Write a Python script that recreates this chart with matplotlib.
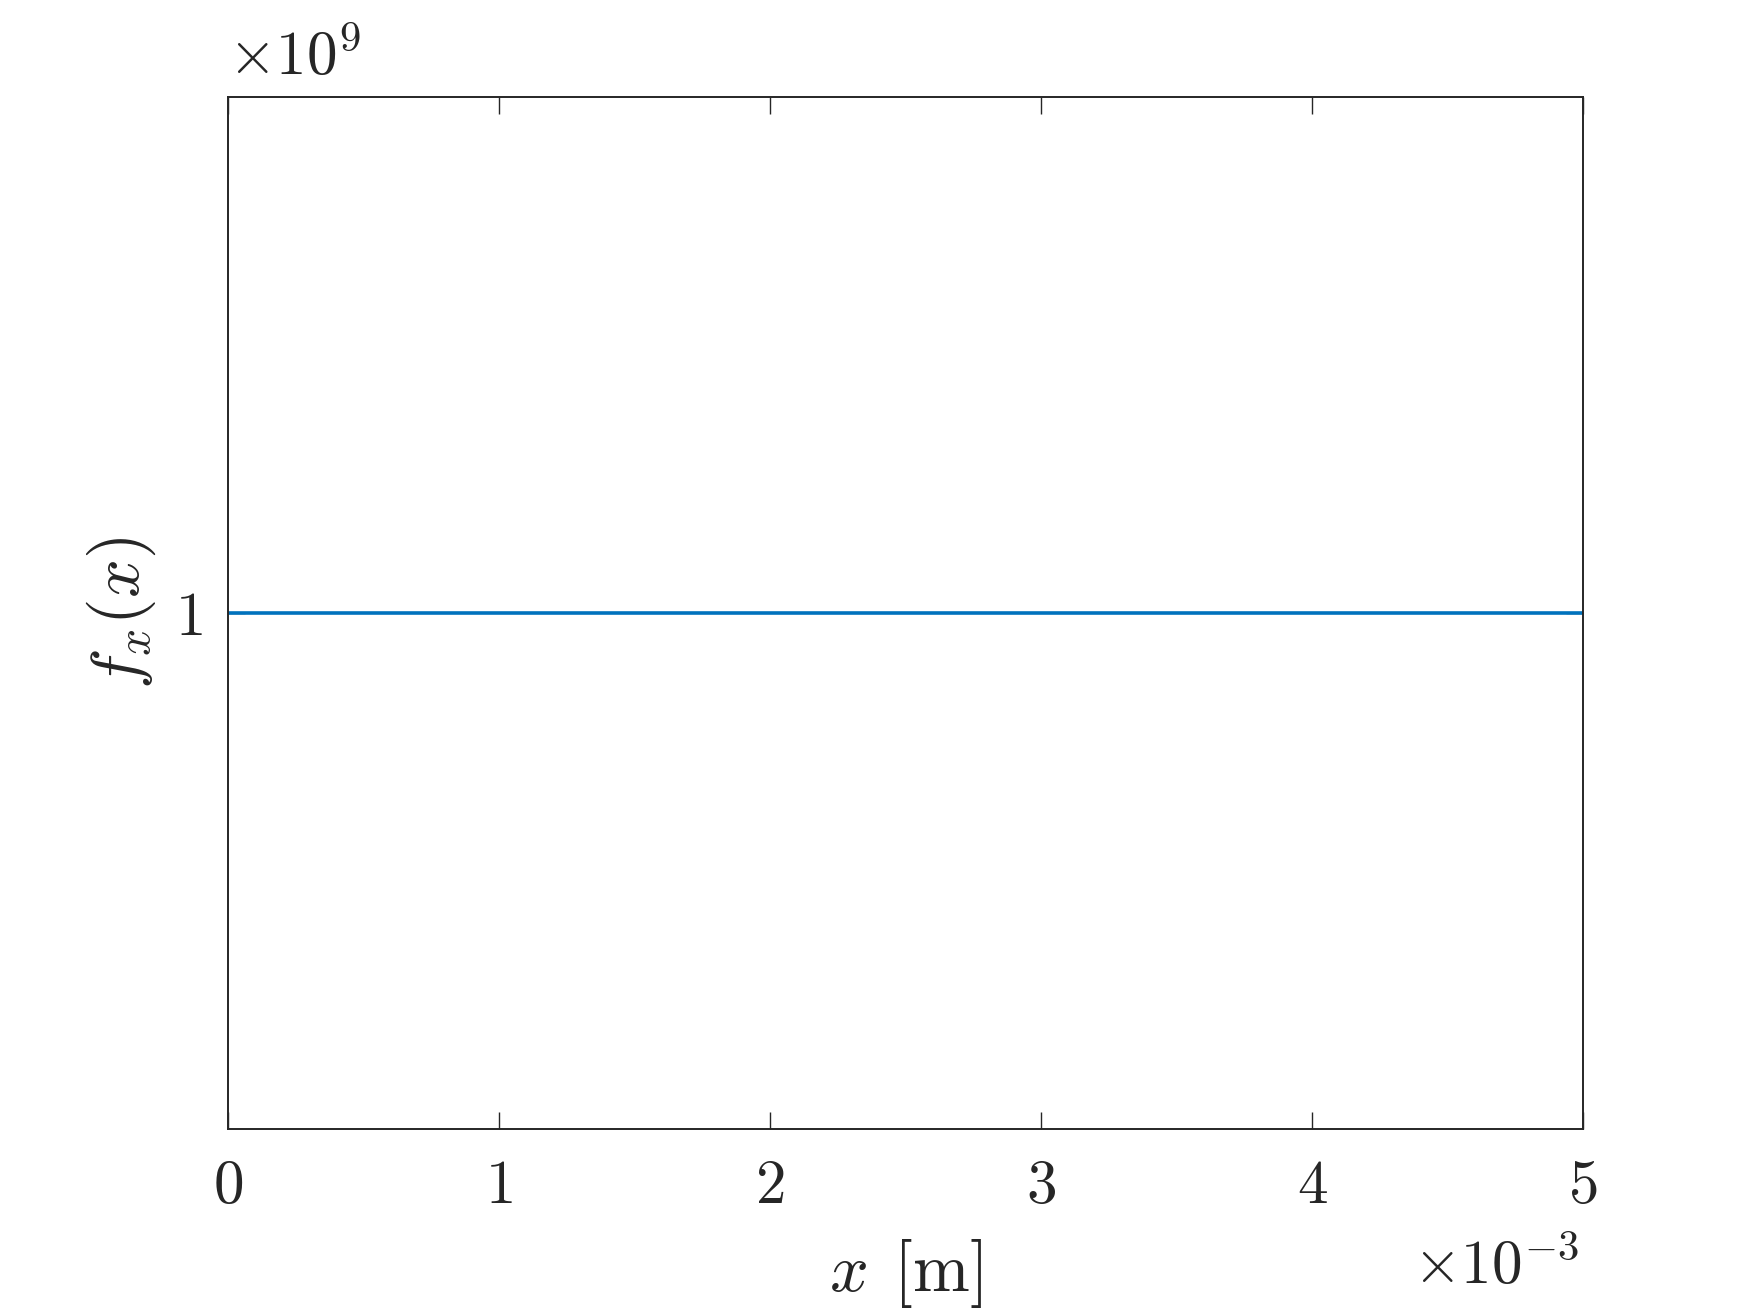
import numpy as np
import matplotlib
matplotlib.use('Agg')
from matplotlib import pyplot as plt

plt.rcParams['mathtext.fontset'] = 'cm'
plt.rcParams['font.family'] = 'serif'
plt.rcParams['font.serif'] = ['cmr10', 'DejaVu Serif']
plt.rcParams['axes.formatter.use_mathtext'] = True

# data: a constant density over the interval
x_vals = np.array([0.0, 0.005])          # [m]
f_vals = np.array([1e9, 1e9])

x_scale = 1e-3
y_scale = 1e9
x_ticks = [0, 1, 2, 3, 4, 5]
y_ticks = [1]
x_lim = (0, 5)
y_lim = (0.5, 1.5)

fig = plt.figure(figsize=(17.5, 13.13), dpi=100)
ax = fig.add_axes([0.1303, 0.1401, 0.7743, 0.786])

ax.plot(x_vals / x_scale, f_vals / y_scale, color='#0072BD', linewidth=2.6)

ax.set_xlim(x_lim)
ax.set_ylim(y_lim)
ax.set_xticks(x_ticks)
ax.set_xticklabels(['$%d$' % t for t in x_ticks])
ax.set_yticks(y_ticks)
ax.set_yticklabels(['$%d$' % t for t in y_ticks])

edge = '#262626'
for s in ax.spines.values():
	s.set_color(edge)
	s.set_linewidth(1.4)
ax.tick_params(direction='in', length=12.5, width=1.0, color=edge,
			   top=True, right=True, labelsize=44, labelcolor=edge)
ax.tick_params(axis='x', pad=22)
ax.tick_params(axis='y', pad=18)

ax.set_xlabel(r'$x\ \hspace{0.1}[\mathrm{m}]$', fontsize=49, color=edge)
ax.set_ylabel(r'$f_x(x)$', fontsize=49, color=edge)
ax.xaxis.set_label_coords(0.5, -0.105)
ax.yaxis.set_label_coords(-0.052, 0.5)

# exponent labels, MATLAB style
ax.text(0.0, 1.021, r'$\times10^{9}$', transform=ax.transAxes,
		fontsize=44, color=edge, ha='left', va='baseline')
ax.text(0.997, -0.150, r'$\times10^{-3}$', transform=ax.transAxes,
		fontsize=44, color=edge, ha='right', va='baseline')

plt.savefig('out.png', dpi=100)
